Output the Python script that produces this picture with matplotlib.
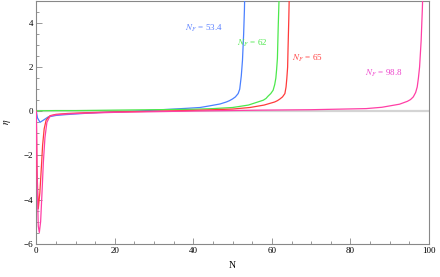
import numpy as np
import matplotlib
matplotlib.use("Agg")
import matplotlib.pyplot as plt
from matplotlib.ticker import MultipleLocator

plt.rcParams["font.family"] = ["Liberation Serif", "DejaVu Serif"]
plt.rcParams["mathtext.fontset"] = "stix"

# kurver lest av fra figuren (N, eta)
n_blaa = [0, 0.3, 0.95, 2, 3, 5, 7.7, 12, 16, 20, 25, 30, 33, 38, 41.7, 44, 46.8,
          48.4, 49.2, 50, 50.7, 51.4, 51.8, 52.2, 52.5, 52.8, 53.0, 53.1]
eta_blaa = [0, -0.3, -0.5, -0.38, -0.26, -0.19, -0.15, -0.1, -0.06, -0.03, 0.0, 0.05,
            0.08, 0.13, 0.17, 0.24, 0.33, 0.42, 0.48, 0.56, 0.65, 0.8, 1.0, 1.6, 2.3,
            3.5, 4.6, 5.5]

n_gronn = [0, 5, 10, 20, 30, 40, 45, 50, 54, 57.8, 58.5, 59, 59.7, 60.3, 60.7, 61,
           61.2, 61.4, 61.6, 61.8, 61.9]
eta_gronn = [0.02, 0.03, 0.03, 0.05, 0.07, 0.09, 0.12, 0.17, 0.28, 0.5, 0.58, 0.68,
             0.8, 0.95, 1.2, 1.5, 1.9, 2.4, 3.8, 5.0, 5.5]

n_rod = [0, 0.15, 0.5, 0.9, 1.37, 1.6, 2.0, 2.5, 3.5, 5, 8, 12, 20, 30, 40, 50, 54.4,
         58, 60.7, 61.4, 62, 62.7, 63.3, 63.6, 63.8, 64.0, 64.1, 64.3, 64.45]
eta_rod = [0, -2.5, -4.42, -3.7, -2.3, -1.55, -0.8, -0.4, -0.2, -0.14, -0.1, -0.07,
           -0.03, 0.0, 0.04, 0.1, 0.17, 0.28, 0.42, 0.48, 0.55, 0.65, 0.8, 1.1, 1.5,
           2.0, 2.8, 4.2, 5.5]

n_rosa = [0, 0.2, 0.5, 0.77, 1.1, 1.5, 1.8, 2.2, 2.7, 3.5, 5, 8, 12, 20, 30, 40, 57,
          70, 84, 88, 92.5, 94.5, 95.3, 96, 96.6, 97, 97.3, 97.6, 98.0, 98.3, 98.45]
eta_rosa = [0, -3.0, -5.2, -5.49, -5.0, -3.5, -2.3, -1.2, -0.5, -0.22, -0.16, -0.12,
            -0.09, -0.05, -0.02, 0.01, 0.05, 0.07, 0.12, 0.18, 0.32, 0.45, 0.53, 0.65,
            0.85, 1.1, 1.5, 2.0, 3.2, 4.6, 5.5]

etiketter = ["53.4", "62", "65", "98.8"]
etikett_pos = [(42.7, 3.77), (55.1, 3.05), (68.9, 2.4), (88.5, 1.73)]
farger = ["#4a80ff", "#4ce84c", "#ff3b3b", "#ff3fa6"]
tekstfarger = ["#5a80ff", "#4ce84c", "#ff4040", "#ee44cc"]

fig = plt.figure(figsize=(4.4, 2.77), dpi=100)
ax = fig.add_axes([0.0825, 0.12, 0.8925, 0.877])

ax.axhline(0, color="#d4d4d4", lw=1.6, zorder=1)

kurver = [(n_blaa, eta_blaa), (n_gronn, eta_gronn), (n_rod, eta_rod), (n_rosa, eta_rosa)]
for (n, eta), farge in zip(kurver, farger):
    ax.plot(n, eta, color=farge, lw=0.9, zorder=3)

for tekst, (x, y), farge in zip(etiketter, etikett_pos, tekstfarger):
    ax.text(x, y, f"$N_F$ = {tekst}", color=farge, fontsize=6.5, ha="center", va="center")

ax.set_xlim(0, 100)
ax.set_ylim(-6, 5)
ax.xaxis.set_major_locator(MultipleLocator(20))
ax.xaxis.set_minor_locator(MultipleLocator(5))
ax.yaxis.set_major_locator(MultipleLocator(2))
ax.yaxis.set_minor_locator(MultipleLocator(0.5))
ax.tick_params(which="both", direction="in", labelsize=6.5, color="#888888", width=0.6)
ax.tick_params(which="major", length=4, pad=2)
ax.tick_params(which="minor", length=2)
for s in ax.spines.values():
    s.set_color("#888888")
    s.set_linewidth(0.8)

ax.set_xlabel("N", fontsize=7, labelpad=5)
ax.set_ylabel(r"$\eta$", fontsize=7, labelpad=8)

fig.savefig("out.png", dpi=100)
